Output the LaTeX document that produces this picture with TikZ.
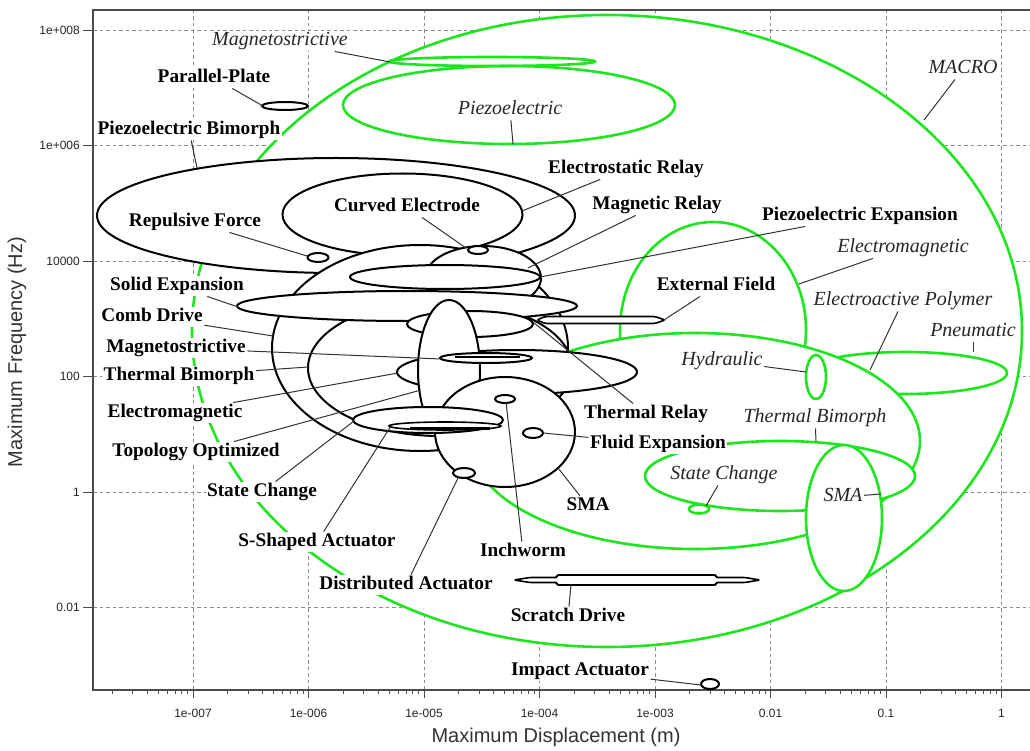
\documentclass[tikz,border=0pt]{standalone}
\usepackage{fontspec}
\setmainfont{Liberation Serif}
\newfontfamily\axisfont{Liberation Sans}
\definecolor{macgreen}{RGB}{30,230,30}
\tikzset{
  gridline/.style={draw=black!45, line width=0.9pt, dash pattern=on 3.5pt off 3pt},
  frameline/.style={draw=black!70, line width=1.4pt},
  tickline/.style={draw=black!70, line width=0.9pt},
  blk/.style={draw=black, fill=white, line width=2pt},
  grnline/.style={draw=macgreen, line width=2.6pt},
  grnfill/.style={draw=macgreen, fill=white, line width=2.6pt},
  lead/.style={draw=black!80, line width=1pt},
  lbl/.style={fill=white, inner sep=1.5pt, text height=13.5pt, text depth=4pt, font=\fontsize{19.3}{20}\selectfont\bfseries},
  ilbl/.style={fill=white, inner sep=1.5pt, text height=13.5pt, text depth=4pt, font=\fontsize{20}{21}\selectfont\itshape, text=black!85},
  ticklbl/.style={inner sep=0pt, font=\axisfont\fontsize{12}{13}\selectfont, text=black!85},
  axtitle/.style={inner sep=0pt, font=\axisfont\fontsize{20}{22}\selectfont, text=black!80},
}
\begin{document}
\begin{tikzpicture}[x=1pt,y=-1pt]
\useasboundingbox (0,0) rectangle (1030,751);
\fill[white] (0,0) rectangle (1030,751);

% grid
\foreach \gx in {193,308.5,424,539.5,655,770.5,886,1001.5} \draw[gridline] (\gx,10) -- (\gx,690);
\foreach \gy in {30,145.5,261,376.5,492,607.5} \draw[gridline] (93,\gy) -- (1030,\gy);

% frame and ticks
\draw[frameline] (1030,10) -- (93,10) -- (93,690) -- (1030,690);
\foreach \gy in {30,145.5,261,376.5,492,607.5} \draw[tickline] (83,\gy) -- (93,\gy);
\foreach \gx in {193,308.5,424,539.5,655,770.5,886,1001.5} \draw[tickline] (\gx,690) -- (\gx,698);
\foreach \d in {-8,...,0} {
  \foreach \m in {2,...,9} {
    \pgfmathsetmacro\xx{193+115.5*(\d+7)+115.5*log10(\m)}
    \draw[tickline] (\xx,690) -- (\xx,694);
  }
}

% tick labels
\node[ticklbl] (xt1) at (193,713) {1e-007};
\node[ticklbl] (xt2) at (308.5,713) {1e-006};
\node[ticklbl] (xt3) at (424,713) {1e-005};
\node[ticklbl] (xt4) at (539.5,713) {1e-004};
\node[ticklbl] (xt5) at (655,713) {1e-003};
\node[ticklbl] (xt6) at (770.5,713) {0.01};
\node[ticklbl] (xt7) at (886,713) {0.1};
\node[ticklbl] (xt8) at (1001.5,713) {1};
\node[ticklbl, anchor=east] (yt1) at (80,30) {1e+008};
\node[ticklbl, anchor=east] (yt2) at (80,145.5) {1e+006};
\node[ticklbl, anchor=east] (yt3) at (80,261) {10000};
\node[ticklbl, anchor=east] (yt4) at (80,376.5) {100};
\node[ticklbl, anchor=east] (yt5) at (80,492) {1};
\node[ticklbl, anchor=east] (yt6) at (80,607.5) {0.01};
\node[axtitle] (xtitle) at (556,737) {Maximum Displacement (m)};
\node[axtitle, rotate=90] (ytitle) at (17,352) {Maximum Frequency (Hz)};

% ---------- green (macro) regions ----------
\draw[grnfill] (607,331) ellipse [x radius=415, y radius=316];
\draw[grnline] (509,105) ellipse [x radius=166, y radius=39];
\draw[grnline] (492,61.5) ellipse [x radius=103, y radius=4.5];
\draw[grnfill] (713,330) ellipse [x radius=93, y radius=108];
\draw[grnfill] (905,373) ellipse [x radius=102, y radius=21];
\draw[grnfill] (695,441) ellipse [x radius=225, y radius=108];
\draw[grnfill] (816,377) ellipse [x radius=10, y radius=22];
\draw[grnfill] (780,476) ellipse [x radius=135, y radius=35];
\draw[grnfill] (699,509) ellipse [x radius=10, y radius=4.5];
\draw[grnfill] (844,518) ellipse [x radius=38, y radius=73];

% ---------- black (MEMS) regions ----------
\draw[blk] (336,215.5) ellipse [x radius=239, y radius=57.5];
\draw[blk] (402.5,214.5) ellipse [x radius=120, y radius=41];
\draw[blk] (318,257.5) ellipse [x radius=10.5, y radius=4.5];
\draw[blk] (420,348) ellipse [x radius=148, y radius=103];
\draw[blk] (483,278) ellipse [x radius=58, y radius=32];
\draw[blk] (478,250) ellipse [x radius=10, y radius=4];
\draw[blk] (445,277) ellipse [x radius=95, y radius=12];
\draw[blk] (440,368) ellipse [x radius=132, y radius=68];
\draw[blk] (407,306) ellipse [x radius=170, y radius=15];
\draw[blk] (470,324) ellipse [x radius=63, y radius=13];
\draw[blk] (517,372) ellipse [x radius=120, y radius=22];
\draw[blk] (449,370) ellipse [x radius=31, y radius=70];
\draw[blk] (486,358) ellipse [x radius=46, y radius=5];
\draw[black, line width=2.5pt] (455,357) -- (520,357);
\draw[blk] (505,432) ellipse [x radius=70, y radius=55];
\draw[blk] (428,420) ellipse [x radius=75, y radius=13];
\draw[blk, line width=1.6pt] (445,426) ellipse [x radius=56, y radius=4];
\draw[black, line width=2.5pt] (410,428.5) -- (490,428.5);
\draw[blk] (505,399) ellipse [x radius=10, y radius=4];
\draw[blk] (533,433) ellipse [x radius=10, y radius=5];
\draw[blk] (464,473) ellipse [x radius=11, y radius=5];
\draw[blk, line width=1.6pt, rounded corners=2pt] (537,320) -- (545,316.5) -- (655,316.5) -- (665,320) -- (655,323.5) -- (545,323.5) -- cycle;
\draw[blk] (285,106) ellipse [x radius=23, y radius=4];
\draw[blk, line width=1.6pt, rounded corners=1.5pt] (514,580) -- (530,577.5) -- (557,577.5) -- (557,575) -- (716,575) -- (716,577.5) -- (745,577.5) -- (760,580) -- (745,582.5) -- (716,582.5) -- (716,585) -- (557,585) -- (557,582.5) -- (530,582.5) -- cycle;
\draw[blk] (710,684) ellipse [x radius=9, y radius=5];

% ---------- leader end points ----------
\coordinate (cPP) at (263,106);
\coordinate (cPB) at (197,168);
\coordinate (cRF) at (307,256);
\coordinate (cCE) at (466,248);
\coordinate (cER) at (522,211);
\coordinate (cMR) at (528,268);
\coordinate (cPE) at (540,277);
\coordinate (cSE) at (238,307);
\coordinate (cCD) at (273,336);
\coordinate (cMS) at (441,359);
\coordinate (cTB) at (308,367);
\coordinate (cEM) at (398,373);
\coordinate (cTO) at (421,390);
\coordinate (cSC) at (354,421);
\coordinate (cSS) at (391,426);
\coordinate (cDA) at (459,476);
\coordinate (cIW) at (506,402);
\coordinate (cFE) at (543,433);
\coordinate (cSMA) at (558,468);
\coordinate (cTR) at (533,322);
\coordinate (cEF) at (664,320);
\coordinate (cSD) at (571,585);
\coordinate (cIA) at (701,685);
\coordinate (gMS) at (390,62);
\coordinate (gPZ) at (513,144);
\coordinate (gMAC) at (924,120);
\coordinate (gEM) at (799,284);
\coordinate (gEAP) at (870,370);
\coordinate (gPN) at (973,352);
\coordinate (gHY) at (806,372);
\coordinate (gTB) at (816,441);
\coordinate (gSC) at (706,506);
\coordinate (gSMA) at (881,494);

% ---------- labels ----------
\node[lbl] (lPP) at (214,78) {Parallel-Plate};
\node[lbl] (lPB) at (189,130) {Piezoelectric Bimorph};
\node[lbl] (lRF) at (195,222) {Repulsive Force};
\node[lbl] (lCE) at (407,207) {Curved Electrode};
\node[lbl] (lER) at (626,169) {Electrostatic Relay};
\node[lbl] (lMR) at (657,205) {Magnetic Relay};
\node[lbl] (lPE) at (860,216) {Piezoelectric Expansion};
\node[lbl] (lSE) at (177,286) {Solid Expansion};
\node[lbl] (lCD) at (152,317) {Comb Drive};
\node[lbl] (lMS) at (176,348) {Magnetostrictive};
\node[lbl] (lTB) at (179,376) {Thermal Bimorph};
\node[lbl] (lEM) at (175,413) {Electromagnetic};
\node[lbl] (lTO) at (196,452) {Topology Optimized};
\node[lbl] (lSC) at (262,492) {State Change};
\node[lbl] (lSS) at (317,542) {S-Shaped Actuator};
\node[lbl] (lDA) at (406,585) {Distributed Actuator};
\node[lbl] (lEF) at (716,286) {External Field};
\node[lbl] (lTR) at (646,414) {Thermal Relay};
\node[lbl] (lFE) at (658,444) {Fluid Expansion};
\node[lbl] (lSMA) at (588,506) {SMA};
\node[lbl] (lIW) at (523,552) {Inchworm};
\node[lbl] (lSD) at (568,617) {Scratch Drive};
\node[lbl] (lIA) at (580,671) {Impact Actuator};

\node[ilbl] (iMS) at (280,41) {Magnetostrictive};
\node[ilbl] (iPZ) at (510,110) {Piezoelectric};
\node[ilbl] (iMAC) at (963,69) {MACRO};
\node[ilbl] (iEM) at (903,248) {Electromagnetic};
\node[ilbl] (iEAP) at (903,301) {Electroactive Polymer};
\node[ilbl] (iPN) at (973,332) {Pneumatic};
\node[ilbl] (iHY) at (722,361) {Hydraulic};
\node[ilbl] (iTB) at (815,418) {Thermal Bimorph};
\node[ilbl] (iSC) at (724,475) {State Change};
\node[ilbl] (iSMA) at (843,497) {SMA};

% ---------- leaders ----------
\draw[lead] (lPP) -- (cPP);
\draw[lead] (lPB) -- (cPB);
\draw[lead] (lRF) -- (cRF);
\draw[lead] (lCE) -- (cCE);
\draw[lead] (lER) -- (cER);
\draw[lead] (lMR) -- (cMR);
\draw[lead] (lPE) -- (cPE);
\draw[lead] (lSE) -- (cSE);
\draw[lead] (lCD) -- (cCD);
\draw[lead] (lMS) -- (cMS);
\draw[lead] (lTB) -- (cTB);
\draw[lead] (lEM) -- (cEM);
\draw[lead] (lTO) -- (cTO);
\draw[lead] (lSC) -- (cSC);
\draw[lead] (lSS) -- (cSS);
\draw[lead] (lDA) -- (cDA);
\draw[lead] (lEF) -- (cEF);
\draw[lead] (lTR) -- (cTR);
\draw[lead] (lFE) -- (cFE);
\draw[lead] (lSMA) -- (cSMA);
\draw[lead] (lIW) -- (cIW);
\draw[lead] (lSD) -- (cSD);
\draw[lead] (lIA) -- (cIA);
\draw[lead] (iMS) -- (gMS);
\draw[lead] (iPZ) -- (gPZ);
\draw[lead] (iMAC) -- (gMAC);
\draw[lead] (iEM) -- (gEM);
\draw[lead] (iEAP) -- (gEAP);
\draw[lead] (iPN) -- (gPN);
\draw[lead] (iHY) -- (gHY);
\draw[lead] (iTB) -- (gTB);
\draw[lead] (iSC) -- (gSC);
\draw[lead] (iSMA) -- (gSMA);
\end{tikzpicture}
\end{document}
